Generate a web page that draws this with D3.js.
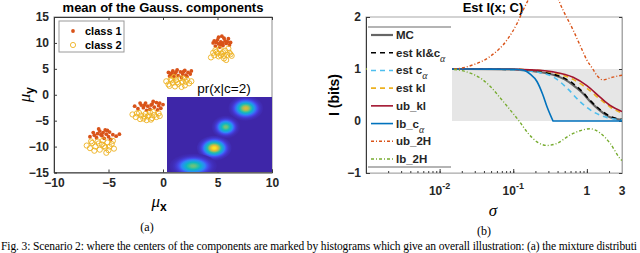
<!DOCTYPE html>
<html>
<head>
<meta charset="utf-8">
<script src="https://cdn.jsdelivr.net/npm/d3@7"></script>
<style>
	body { margin: 0; background: #fff; }
	text { font-family: "Liberation Sans", Arial, sans-serif; }
	.serif { font-family: "Liberation Serif", "Times New Roman", serif; }
</style>
</head>
<body>
<div id="fig"></div>
<script>
// ---- panel (a): means of the Gauss. components ----
var xTicksA = [-10, -5, 0, 5, 10];
var yTicksA = [-15, -10, -5, 0, 5, 10, 15];
var classNames = ["class 1", "class 2"];

var class1 = [
	[-6.7,-8.1],[-6.3,-7.8],[-6.0,-7.5],[-5.8,-7.0],[-5.5,-7.3],[-5.3,-6.8],[-5.6,-7.9],[-5.2,-7.6],[-4.9,-7.2],[-4.6,-7.7],
	[-4.3,-8.0],[-4.0,-7.6],[-6.1,-8.3],[-5.4,-8.4],[-5.0,-8.1],[-5.9,-6.6],[-5.7,-7.7],[-4.8,-8.6],[-6.4,-7.3],[-5.1,-6.9],
	[-2.6,-2.2],[-2.3,-2.7],[-2.0,-2.0],[-1.8,-2.5],[-1.6,-1.6],[-1.4,-2.2],[-1.2,-2.8],[-1.0,-1.8],[-0.8,-2.4],[-0.6,-1.5],
	[-0.4,-2.1],[-0.2,-2.6],[0.0,-1.9],[-1.5,-3.0],[-0.9,-1.3],[-2.1,-1.6],[-1.1,-2.0],[-0.5,-2.9],[-1.7,-2.0],[-0.3,-1.6],
	[0.5,4.3],[0.7,3.9],[0.9,4.6],[1.1,4.1],[1.3,4.8],[1.4,3.7],[1.6,4.4],[1.8,4.0],[2.0,4.7],[2.1,3.8],
	[2.3,4.3],[2.5,4.0],[1.0,3.5],[1.7,3.3],[2.6,4.6],[0.6,3.6],[1.2,4.4],[1.9,4.5],[0.8,4.2],[2.2,3.5],
	[4.6,10.0],[4.8,9.4],[5.0,10.6],[5.1,9.8],[5.3,10.2],[5.4,11.3],[5.5,9.5],[5.7,10.4],[5.8,9.9],[6.0,10.8],
	[6.1,9.6],[4.9,10.1],[5.2,9.2],[5.6,10.9],[5.9,10.2],[5.3,9.7],[4.7,10.4],[5.5,10.0],[6.2,10.1],[5.1,11.1]
];
var class2 = [
	[-7.0,-9.8],[-6.7,-10.3],[-6.5,-9.3],[-6.2,-10.0],[-6.0,-9.0],[-5.8,-10.6],[-5.6,-9.6],[-5.3,-10.2],[-5.1,-9.2],[-4.9,-10.0],
	[-4.7,-9.5],[-4.5,-10.4],[-5.2,-11.2],[-6.3,-10.8],[-5.5,-8.8],[-4.6,-8.9],[-5.9,-9.4],[-5.0,-10.7],[-6.6,-9.0],[-5.4,-9.9],
	[-2.8,-3.8],[-2.5,-4.3],[-2.2,-3.5],[-2.0,-4.0],[-1.8,-4.6],[-1.6,-3.7],[-1.4,-4.2],[-1.2,-3.4],[-1.0,-4.5],[-0.8,-3.9],
	[-0.6,-4.3],[-0.4,-3.6],[-1.5,-4.9],[-2.1,-4.7],[-0.9,-3.3],[-1.3,-4.0],[-0.3,-4.1],[-1.7,-4.2],[-1.1,-4.8],[-2.4,-3.6],
	[0.3,2.6],[0.5,2.0],[0.7,3.0],[0.9,2.3],[1.1,1.6],[1.2,2.8],[1.4,2.1],[1.6,3.2],[1.8,2.5],[2.0,1.8],
	[2.2,2.9],[2.4,2.2],[2.6,2.6],[1.0,3.4],[1.7,1.5],[0.6,1.7],[1.3,2.4],[2.1,2.5],[0.8,2.8],[1.9,3.1],
	[4.4,7.2],[4.7,7.6],[4.9,8.3],[5.1,7.4],[5.2,8.8],[5.4,7.9],[5.6,7.0],[5.7,8.5],[5.9,7.7],[6.1,8.1],
	[6.3,7.5],[5.0,8.0],[5.5,8.2],[5.8,6.7],[6.0,8.9],[5.3,7.6],[4.6,8.1],[6.2,7.8],[5.6,7.5],[4.8,8.6]
];

// inset pr(x|c=2): blob centre (u,v), spread, peak level (0..1 of colormap)
var blobU = [7.5, 5.6, 4.5, 2.5];
var blobV = [8.5, 6.0, 3.2, 0.8];
var blobSU = [0.55, 0.45, 0.55, 0.75];
var blobSV = [0.55, 0.5, 0.55, 0.55];
var blobPeak = [0.78, 0.62, 0.97, 0.6];

// ---- panel (b): Est I(x; C) ----
var sigmaTicks = [0.01, 0.1, 1, 3];
var iTicks = [-1, 0, 1, 2];
var shadeBand = [0, 1];

var mcSigma = [0.001, 0.01, 0.05, 0.1, 0.136, 0.231, 0.347, 0.5, 0.65, 0.887, 1.1, 1.51, 2.07, 3];
var mcI     = [1.0, 1.0, 0.998, 0.99, 0.98, 0.94, 0.89, 0.80, 0.69, 0.53, 0.38, 0.20, 0.07, 0.02];
var klcaI   = [1.0, 1.0, 0.998, 0.99, 0.985, 0.95, 0.90, 0.82, 0.72, 0.55, 0.40, 0.22, 0.09, 0.03];
var caSigma = [0.001, 0.01, 0.05, 0.1, 0.136, 0.231, 0.347, 0.54, 0.81, 1.21, 1.86, 3];
var caI     = [1.0, 1.0, 0.998, 0.985, 0.97, 0.93, 0.85, 0.63, 0.37, 0.18, 0.07, 0.02];
var klSigma = [0.001, 0.01, 0.05, 0.1, 0.231, 0.347, 0.65, 1.0, 1.51, 2.07, 3];
var klI     = [1.0, 1.0, 0.998, 0.995, 0.97, 0.93, 0.80, 0.63, 0.42, 0.27, 0.15];
var ubklI   = [1.0, 1.0, 1.0, 0.995, 0.975, 0.945, 0.84, 0.68, 0.46, 0.30, 0.18];
var lbcaSigma = [0.001, 0.01, 0.05, 0.1, 0.136, 0.17, 0.21, 0.25, 0.29, 0.347, 3];
var lbcaI     = [1.0, 1.0, 0.998, 0.995, 0.98, 0.9, 0.76, 0.52, 0.26, 0, 0];
var ub2hSigma = [0.001, 0.005, 0.0152, 0.0284, 0.0484, 0.0824, 0.113, 0.136, 0.19, 0.27, 0.36, 0.475, 0.65, 0.86, 1.0, 1.18, 1.38, 1.66, 2.07, 3];
var ub2hI     = [1.0, 1.0, 1.0, 1.08, 1.24, 1.56, 1.88, 2.13, 2.5, 2.65, 2.5, 2.13, 1.75, 1.37, 1.17, 1.02, 0.87, 0.79, 0.83, 0.88];
var lb2hSigma = [0.001, 0.005, 0.0152, 0.025, 0.038, 0.05, 0.066, 0.09, 0.12, 0.16, 0.21, 0.288, 0.394, 0.59, 0.887, 1.1, 1.51, 2.07, 2.82, 3];
var lb2hI     = [1.0, 1.0, 0.99, 0.93, 0.8, 0.65, 0.45, 0.22, 0.0, -0.24, -0.40, -0.47, -0.43, -0.27, -0.17, -0.15, -0.23, -0.43, -0.72, -0.76];

var legendLabels = ["MC", "est kl&c", "est c", "est kl", "ub_kl", "lb_c", "ub_2H", "lb_2H"];
var legendSubs = ["", "\u03b1", "\u03b1", "", "", "\u03b1", "", ""];

var captionText = "Fig. 3: Scenario 2: where the centers of the components are marked by histograms which give an overall illustration: (a) the mixture distributi";

// ------------------------------------------------------------
var width = 640, height = 253;
var axisColor = "#3a3a3a";
var svg = d3.select("#fig").append("svg")
	.attr("width", width)
	.attr("height", height);

function styleAxis(g) {
	g.select(".domain").attr("stroke", axisColor);
	g.selectAll(".tick line").attr("stroke", axisColor);
	g.selectAll(".tick text")
		.attr("font-weight", "bold")
		.attr("font-size", 12)
		.attr("fill", "#262626");
}

// ================= panel (a) =================
var xA = d3.scaleLinear().domain([-10, 10]).range([54, 272]);
var yA = d3.scaleLinear().domain([-15, 15]).range([172.5, 17]);
var gA = svg.append("g");

// box
gA.append("rect")
	.attr("x", xA(-10)).attr("y", yA(15))
	.attr("width", xA(10) - xA(-10)).attr("height", yA(-15) - yA(15))
	.attr("fill", "none").attr("stroke", "#8c8c8c");

gA.append("g")
	.attr("transform", "translate(0," + yA(-15) + ")")
	.call(d3.axisBottom(xA).tickValues(xTicksA).tickSize(-3).tickPadding(6).tickFormat(d3.format("d")))
	.call(styleAxis);
gA.append("g")
	.attr("transform", "translate(0," + yA(15) + ")")
	.call(d3.axisTop(xA).tickValues(xTicksA).tickSize(-3).tickFormat(""))
	.call(styleAxis);
gA.append("g")
	.attr("transform", "translate(" + xA(-10) + ",0)")
	.call(d3.axisLeft(yA).tickValues(yTicksA).tickSize(-3).tickPadding(5).tickFormat(d3.format("d")))
	.call(styleAxis);

gA.append("text")
	.attr("x", xA(0)).attr("y", 12)
	.attr("text-anchor", "middle")
	.attr("font-weight", "bold").attr("font-size", 13)
	.text("mean of the Gauss. components");

// axis labels
var xlabA = gA.append("text")
	.attr("x", xA(0) - 4).attr("y", 207)
	.attr("text-anchor", "middle");
xlabA.append("tspan").attr("class", "serif").attr("font-style", "italic")
	.attr("font-size", 17).text("\u03bc");
xlabA.append("tspan").attr("font-weight", "bold").attr("font-size", 12).attr("dy", 4).text("x");

var ylabA = gA.append("text")
	.attr("transform", "translate(30," + yA(0) + ") rotate(-90)")
	.attr("text-anchor", "middle");
ylabA.append("tspan").attr("class", "serif").attr("font-style", "italic")
	.attr("font-size", 17).text("\u03bc");
ylabA.append("tspan").attr("font-weight", "bold").attr("font-size", 12).attr("dy", 4).text("y");

// scatter
gA.append("g").selectAll("circle")
	.data(class1)
	.enter().append("circle")
	.attr("cx", function(d) { return xA(d[0]); })
	.attr("cy", function(d) { return yA(d[1]); })
	.attr("r", 1.9)
	.attr("fill", "#D95319");
gA.append("g").selectAll("circle")
	.data(class2)
	.enter().append("circle")
	.attr("cx", function(d) { return xA(d[0]); })
	.attr("cy", function(d) { return yA(d[1]); })
	.attr("r", 2.6)
	.attr("fill", "none")
	.attr("stroke", "#EDB120")
	.attr("stroke-width", 0.9);

// legend (a)
var legA = gA.append("g");
legA.append("rect")
	.attr("x", 59).attr("y", 21).attr("width", 65).attr("height", 31)
	.attr("fill", "#fff").attr("stroke", "#9a9a9a");
legA.append("circle").attr("cx", 73).attr("cy", 31).attr("r", 1.9).attr("fill", "#D95319");
legA.append("circle").attr("cx", 73).attr("cy", 45).attr("r", 2.6)
	.attr("fill", "none").attr("stroke", "#EDB120").attr("stroke-width", 0.9);
legA.selectAll("text.lab")
	.data(classNames)
	.enter().append("text")
	.attr("class", "lab")
	.attr("x", 85)
	.attr("y", function(d, i) { return 35 + i * 14; })
	.attr("font-weight", "bold").attr("font-size", 11)
	.text(function(d) { return d; });

// inset heatmap
var ix = d3.scaleLinear().domain([0, 10]).range([167, 272]);
var iy = d3.scaleLinear().domain([0, 10]).range([172, 97]);
var parula = d3.scaleLinear()
	.domain([0, 0.1, 0.2, 0.3, 0.4, 0.5, 0.6, 0.7, 0.8, 0.9, 1])
	.range(["#3e26a8", "#4748f0", "#2e87f7", "#1aa2e0", "#0db4c4", "#2fbfa0", "#72c27a", "#b0bd4e", "#e6b935", "#f8d22c", "#f9fb15"]);

var defs = svg.append("defs");
defs.append("clipPath").attr("id", "insetClip")
	.append("rect")
	.attr("x", ix(0)).attr("y", iy(10))
	.attr("width", ix(10) - ix(0)).attr("height", iy(0) - iy(10));

var blobs = blobU.map(function(u, i) {
	return { u: u, v: blobV[i], su: blobSU[i], sv: blobSV[i], peak: blobPeak[i] };
});
blobs.forEach(function(b, i) {
	var grad = defs.append("radialGradient").attr("id", "blob" + i);
	d3.range(0, 11).forEach(function(k) {
		var t = k / 10;
		grad.append("stop")
			.attr("offset", t)
			.attr("stop-color", parula(b.peak * Math.exp(-4.5 * t * t)));
	});
});

var gI = gA.append("g").attr("clip-path", "url(#insetClip)");
gI.append("rect")
	.attr("x", ix(0)).attr("y", iy(10))
	.attr("width", ix(10) - ix(0)).attr("height", iy(0) - iy(10))
	.attr("fill", parula(0));
gI.selectAll("ellipse")
	.data(blobs)
	.enter().append("ellipse")
	.attr("cx", function(d) { return ix(d.u); })
	.attr("cy", function(d) { return iy(d.v); })
	.attr("rx", function(d) { return ix(3 * d.su) - ix(0); })
	.attr("ry", function(d) { return iy(0) - iy(3 * d.sv); })
	.attr("fill", function(d, i) { return "url(#blob" + i + ")"; });

gA.append("text")
	.attr("x", 224).attr("y", 93)
	.attr("text-anchor", "middle")
	.attr("font-size", 13.5)
	.text("pr(x|c=2)");

gA.append("text")
	.attr("class", "serif")
	.attr("x", 147).attr("y", 231)
	.attr("text-anchor", "middle")
	.attr("font-size", 12)
	.text("(a)");

// ================= panel (b) =================
var xB = d3.scaleLog().domain([0.001, 3]).range([366, 622]);
var yB = d3.scaleLinear().domain([-1, 2]).range([173, 17]);
var gB = svg.append("g");

// shaded band
gB.append("rect")
	.attr("x", xB(0.001)).attr("y", yB(shadeBand[1]))
	.attr("width", xB(3) - xB(0.001))
	.attr("height", yB(shadeBand[0]) - yB(shadeBand[1]))
	.attr("fill", "#e6e6e6");

// box
gB.append("rect")
	.attr("x", xB(0.001)).attr("y", yB(2))
	.attr("width", xB(3) - xB(0.001)).attr("height", yB(-1) - yB(2))
	.attr("fill", "none").attr("stroke", "#a8a8a8");

// minor + major log ticks on bottom
var minorTicks = xB.ticks().filter(function(d) { return d > 0.001 && d < 3; });
gB.append("g")
	.attr("transform", "translate(0," + yB(-1) + ")")
	.call(d3.axisBottom(xB).tickValues(minorTicks).tickSize(-2).tickFormat(""))
	.call(styleAxis)
	.select(".domain").attr("stroke", "#bdbdbd");
gB.append("g")
	.attr("transform", "translate(0," + yB(-1) + ")")
	.call(d3.axisBottom(xB).tickValues(sigmaTicks).tickSize(-4).tickFormat(""))
	.call(styleAxis)
	.select(".domain").remove();

var xLabs = gB.append("g").selectAll("text")
	.data(sigmaTicks)
	.enter().append("text")
	.attr("x", function(d) { return xB(d); })
	.attr("y", 195)
	.attr("text-anchor", "middle")
	.attr("font-weight", "bold")
	.attr("font-size", 12)
	.attr("fill", "#262626");
xLabs.each(function(d) {
	var t = d3.select(this);
	var e = Math.round(Math.log10(d));
	if (d < 1) {
		t.append("tspan").text("10");
		t.append("tspan").attr("font-size", 9).attr("dy", -6).text(String(e));
	} else {
		t.text(String(d));
	}
});

gB.append("g")
	.attr("transform", "translate(" + xB(0.001) + ",0)")
	.call(d3.axisLeft(yB).tickValues(iTicks).tickSize(-4).tickPadding(5).tickFormat(d3.format("d")))
	.call(styleAxis);
gB.append("g")
	.attr("transform", "translate(" + xB(3) + ",0)")
	.call(d3.axisRight(yB).tickValues(iTicks).tickSize(-3).tickFormat(""))
	.call(styleAxis)
	.select(".domain").attr("stroke", "#a8a8a8");

gB.append("text")
	.attr("x", 493).attr("y", 12)
	.attr("text-anchor", "middle")
	.attr("font-weight", "bold").attr("font-size", 13)
	.text("Est I(x; C)");

gB.append("text")
	.attr("transform", "translate(339," + yB(0.5) + ") rotate(-90)")
	.attr("text-anchor", "middle")
	.attr("font-weight", "bold").attr("font-size", 14)
	.text("I (bits)");

gB.append("text")
	.attr("class", "serif")
	.attr("x", 493).attr("y", 216)
	.attr("text-anchor", "middle")
	.attr("font-style", "italic")
	.attr("font-size", 17)
	.text("\u03c3");

gB.append("text")
	.attr("class", "serif")
	.attr("x", 484).attr("y", 235)
	.attr("text-anchor", "middle")
	.attr("font-size", 12)
	.text("(b)");

// curves
function pairs(s, v) { return s.map(function(x, i) { return [x, v[i]]; }); }
var series = [
	{ pts: pairs(mcSigma, mcI), color: "#666666", dash: null, w: 2.2 },
	{ pts: pairs(mcSigma, klcaI), color: "#000000", dash: "5,4", w: 1.6 },
	{ pts: pairs(caSigma, caI), color: "#4DBEEE", dash: "5,4", w: 1.6 },
	{ pts: pairs(klSigma, klI), color: "#EDB120", dash: "5,4", w: 1.6 },
	{ pts: pairs(klSigma, ubklI), color: "#A2142F", dash: null, w: 1.6 },
	{ pts: pairs(lbcaSigma, lbcaI), color: "#0072BD", dash: null, w: 1.6, corner: true },
	{ pts: pairs(ub2hSigma, ub2hI), color: "#D95319", dash: "3,2,1,2", w: 1.4 },
	{ pts: pairs(lb2hSigma, lb2hI), color: "#77AC30", dash: "3,2,1,2", w: 1.4 }
];

defs.append("clipPath").attr("id", "plotClip")
	.append("rect")
	.attr("x", xB(0.001)).attr("y", 0)
	.attr("width", xB(3) - xB(0.001)).attr("height", yB(-1));

var line = d3.line()
	.x(function(d) { return xB(d[0]); })
	.y(function(d) { return yB(d[1]); })
	.curve(d3.curveMonotoneX);
var straight = d3.line()
	.x(function(d) { return xB(d[0]); })
	.y(function(d) { return yB(d[1]); });

var gL = gB.append("g").attr("clip-path", "url(#plotClip)");
series.forEach(function(s) {
	var d;
	if (s.corner) {
		var k = s.pts.findIndex(function(p) { return p[1] <= 0; });
		d = line(s.pts.slice(0, k + 1)) + straight(s.pts.slice(k)).replace(/^M/, "L");
	} else {
		d = line(s.pts);
	}
	gL.append("path")
		.attr("d", d)
		.attr("fill", "none")
		.attr("stroke", s.color)
		.attr("stroke-width", s.w)
		.attr("stroke-dasharray", s.dash);
});

// legend (b)
var legB = gB.append("g");
legB.append("rect")
	.attr("x", 367).attr("y", 27).attr("width", 85).attr("height", 140)
	.attr("fill", "#fff");
[27, 167].forEach(function(yy) {
	legB.append("line")
		.attr("x1", 368).attr("x2", 451).attr("y1", yy).attr("y2", yy)
		.attr("stroke", "#b4b4b4").attr("stroke-width", 2);
});
var legStep = (159 - 35) / (legendLabels.length - 1);
series.forEach(function(s, i) {
	var yy = 35 + i * legStep;
	legB.append("line")
		.attr("x1", 371).attr("x2", 393).attr("y1", yy).attr("y2", yy)
		.attr("stroke", s.color)
		.attr("stroke-width", s.w)
		.attr("stroke-dasharray", s.dash);
	var t = legB.append("text")
		.attr("x", 396).attr("y", yy + 4)
		.attr("font-weight", "bold").attr("font-size", 11.5)
		.attr("fill", "#262626");
	t.append("tspan").text(legendLabels[i]);
	if (legendSubs[i]) {
		t.append("tspan").attr("class", "serif").attr("dy", 5).attr("font-size", 10)
			.attr("font-weight", "normal").attr("font-style", "italic")
			.text(legendSubs[i]);
	}
});

// caption at the bottom edge
svg.append("text")
	.attr("class", "serif")
	.attr("x", 1).attr("y", 250)
	.attr("font-size", 11.5)
	.attr("textLength", 636)
	.attr("lengthAdjust", "spacing")
	.text(captionText);
</script>
</body>
</html>
